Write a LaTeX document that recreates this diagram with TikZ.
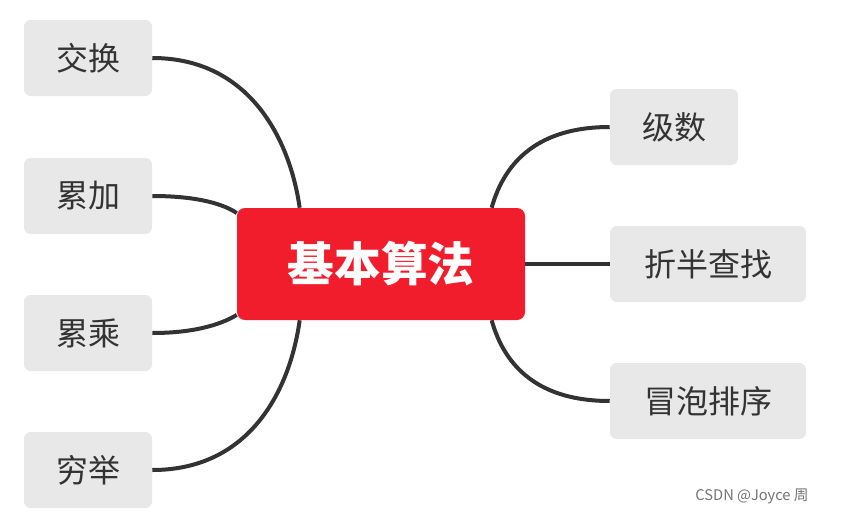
\documentclass[tikz,border=0pt]{standalone}
\usepackage{fontspec}
\newfontfamily\cjk{Noto Sans CJK SC}
\definecolor{boxgray}{HTML}{E8E8E8}
\definecolor{topred}{HTML}{F21D2C}
\definecolor{linegray}{HTML}{333333}
\tikzset{
  leaf/.style={fill=boxgray,rounded corners=5pt,minimum height=57pt,inner sep=0pt,font=\cjk\fontsize{24}{28}\selectfont,text=black!80},
  link/.style={draw=linegray,line width=3pt}
}
\begin{document}
\begin{tikzpicture}[x=0.75pt,y=-0.75pt]
  \useasboundingbox (0,0) rectangle (846,518);
  \node[fill=topred,rounded corners=6pt,minimum width=216pt,minimum height=84pt,text=white,font=\cjk\bfseries\fontsize{35}{40}\selectfont] (top) at (381,264) {基本算法};

  \node[leaf,minimum width=96pt] (jh) at (88,58) {交换};
  \node[leaf,minimum width=96pt] (lj) at (88,196) {累加};
  \node[leaf,minimum width=96pt] (lc) at (88,333) {累乘};
  \node[leaf,minimum width=96pt] (qj) at (88,470) {穷举};
  \node[leaf,minimum width=96pt] (js) at (674,127) {级数};
  \node[leaf,minimum width=147pt] (zb) at (708,264) {折半查找};
  \node[leaf,minimum width=147pt] (mp) at (708,401) {冒泡排序};

  \draw[link] (jh.east) .. controls (250,58) and (290,140) .. ([xshift=-61pt]top.north);
  \draw[link] (lj.east) .. controls (200,196) and (225,205) .. ([yshift=-4pt]top.north west);
  \draw[link] (lc.east) .. controls (200,333) and (225,322) .. ([yshift=4pt]top.south west);
  \draw[link] (qj.east) .. controls (250,470) and (290,390) .. ([xshift=-61pt]top.south);
  \draw[link] (js.west) .. controls (540,127) and (505,160) .. ([xshift=83pt]top.north);
  \draw[link] (top.east) -- (zb.west);
  \draw[link] (mp.west) .. controls (540,401) and (505,368) .. ([xshift=83pt]top.south);

  \node[text=black!55,font=\cjk\fontsize{11}{13}\selectfont] (wm) at (752,496) {CSDN @Joyce 周};
\end{tikzpicture}
\end{document}
